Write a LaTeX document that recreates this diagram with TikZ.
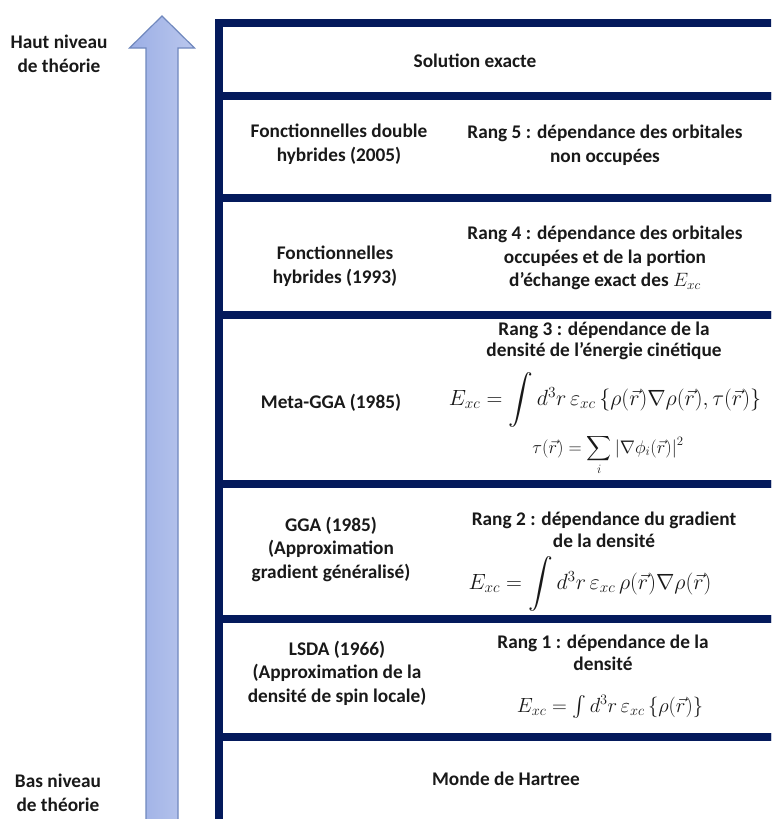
\RequirePackage{fix-cm}
\documentclass[tikz,border=0pt]{standalone}
\usepackage{fontspec}
\setmainfont{Carlito}
\usepackage{amsmath}
\usepackage{graphicx}
\definecolor{navy}{RGB}{4,26,92}
\definecolor{txt}{RGB}{25,25,25}
\definecolor{arrL}{RGB}{155,174,229}
\definecolor{arrR}{RGB}{186,199,237}
\definecolor{arrD}{RGB}{112,136,190}
\newcommand{\myBigInt}{\mathop{\vcenter{\hbox{\resizebox{!}{34pt}{$\displaystyle\int$}}}}\nolimits}
\begin{document}
\begin{tikzpicture}[x=1pt,y=-1pt,
  row/.style={draw=navy, line width=8pt, fill=white},
  lbl/.style={font=\bfseries\fontsize{19.3}{23.5}\selectfont, align=center, inner sep=0pt, text=txt},
  eqn/.style={font=\fontsize{22}{26}\selectfont, inner sep=0pt, text=txt}]
\clip (0,0) rectangle (771,819);
\fill[white] (0,0) rectangle (771,819);
% arrow
\draw[left color=arrL, right color=arrR, draw=arrD, line width=1.2pt, line join=miter]
  (146,830) -- (146,48) -- (129.5,48) -- (162,16) -- (194.5,48) -- (178,48) -- (178,830);
% rows
\draw[row] (219,22.5) rectangle (800,96);
\draw[row] (219,96) rectangle (800,198);
\draw[row] (219,198) rectangle (800,315);
\draw[row] (219,315) rectangle (800,484);
\draw[row] (219,484) rectangle (800,619);
\draw[row] (219,619) rectangle (800,737);
\draw[row] (219,737) rectangle (800,822.5);
% side labels
\node[lbl] (haut) at (59,54) {Haut niveau\\de théorie};
\node[lbl] (bas) at (58,793) {Bas niveau\\de théorie};
% row texts
\node[lbl] (sol) at (475,61) {Solution exacte};
\node[lbl] (l5) at (339,144) {Fonctionnelles double\\hybrides (2005)};
\node[lbl] (r5) at (605,145) {Rang 5 : dépendance des orbitales\\non occupées};
\node[lbl] (l4) at (335,266) {Fonctionnelles\\hybrides (1993)};
\node[lbl] (r4) at (605,258) {Rang 4 : dépendance des orbitales\\occupées et de la portion\\d’échange exact des \mdseries$E_{xc}$};
\node[lbl] (l3) at (331,403) {Meta-GGA (1985)};
\node[lbl, font=\bfseries\fontsize{19.3}{21}\selectfont] (r3) at (604,341) {Rang 3 : dépendance de la\\densité de l’énergie cinétique};
\node[eqn] (e3a) at (605,400) {$E_{xc}=\myBigInt d^3r\,\varepsilon_{xc}\,\{\rho(\vec r)\nabla\rho(\vec r),\tau(\vec r)\}$};
\node[eqn, font=\fontsize{18.2}{22}\selectfont] (e3b) at (608,455) {$\displaystyle \tau(\vec r)=\sum_i|\nabla\phi_i(\vec r)|^2$};
\node[lbl] (l2) at (331,549) {GGA (1985)\\(Approximation\\gradient généralisé)};
\node[lbl, font=\bfseries\fontsize{19.3}{22}\selectfont] (r2) at (604,530) {Rang 2 : dépendance du gradient\\de la densité};
\node[eqn] (e2) at (590,584) {$E_{xc}=\myBigInt d^3r\,\varepsilon_{xc}\,\rho(\vec r)\nabla\rho(\vec r)$};
\node[lbl] (l1) at (337,673) {LSDA (1966)\\(Approximation de la\\densité de spin locale)};
\node[lbl, font=\bfseries\fontsize{19.3}{22}\selectfont] (r1) at (603,653) {Rang 1 : dépendance de la\\densité};
\node[eqn, font=\fontsize{20.5}{24}\selectfont] (e1) at (610,707) {$E_{xc}=\int d^3r\,\varepsilon_{xc}\,\{\rho(\vec r)\}$};
\node[lbl] (m0) at (506,779) {Monde de Hartree};
\end{tikzpicture}
\end{document}
